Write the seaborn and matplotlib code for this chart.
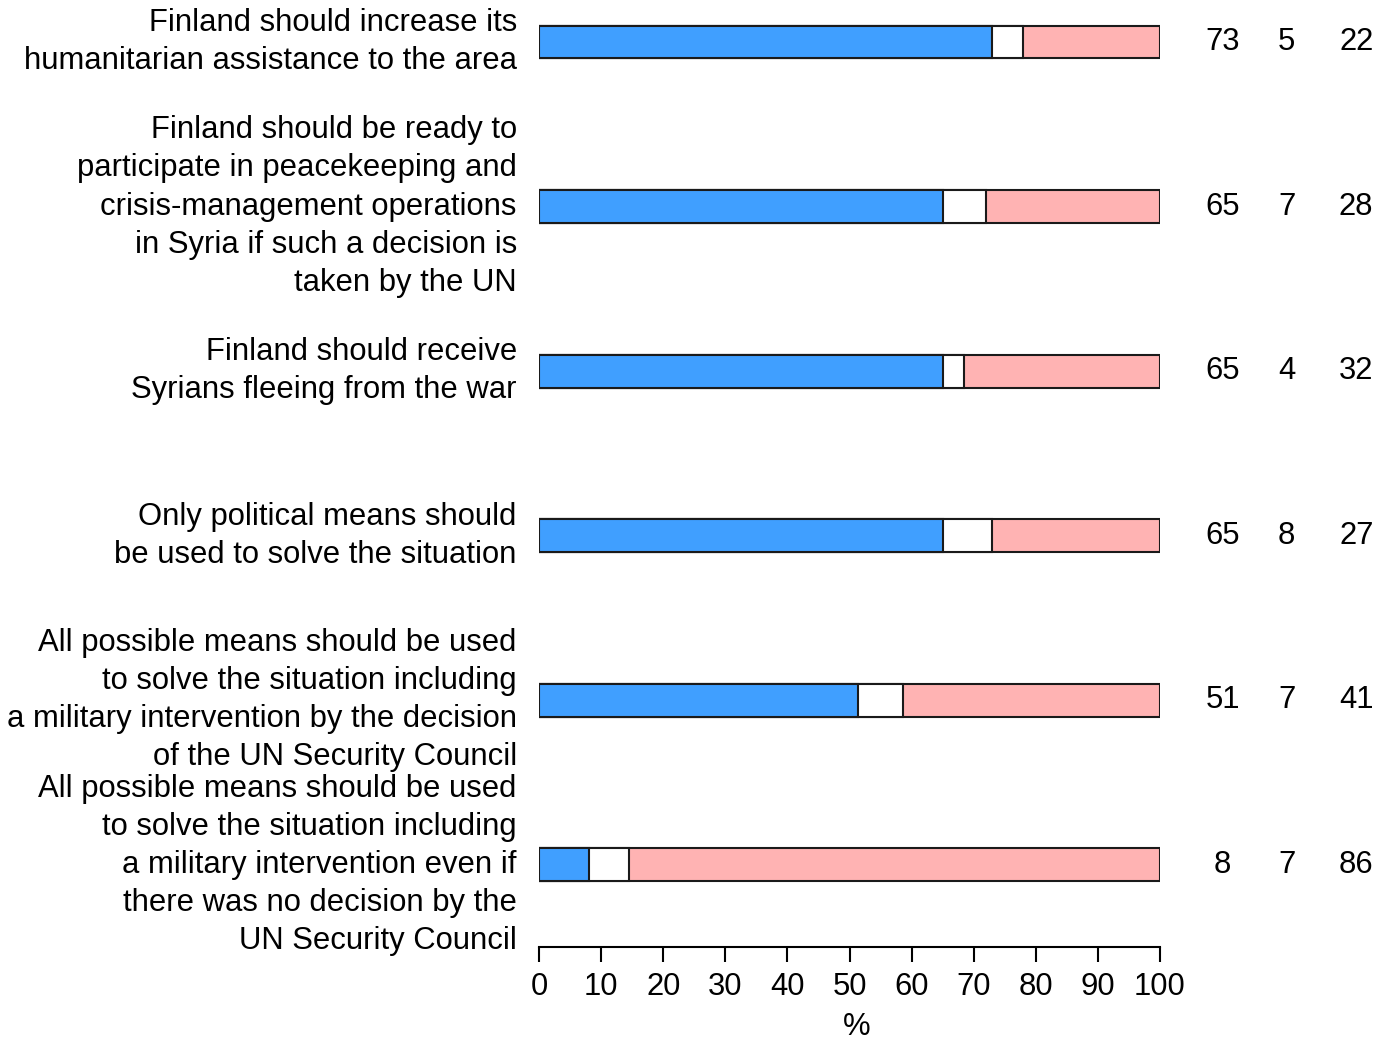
import pandas as pd
import matplotlib
matplotlib.use("Agg")
import matplotlib.pyplot as plt
import seaborn as sns

# Survey statements (top to bottom) and shares in %
statements = [
    "Finland should increase its\nhumanitarian assistance to the area",
    "Finland should be ready to\nparticipate in peacekeeping and\ncrisis-management operations\nin Syria if such a decision is\ntaken by the UN",
    "Finland should receive\nSyrians fleeing from the war",
    "Only political means should\nbe used to solve the situation",
    "All possible means should be used\nto solve the situation including\na military intervention by the decision\nof the UN Security Council",
    "All possible means should be used\nto solve the situation including\na military intervention even if\nthere was no decision by the\nUN Security Council",
]
agree = [73.0, 65.0, 65.0, 65.0, 51.3, 8.0]
dont_know = [5.0, 7.0, 3.5, 8.0, 7.3, 6.5]
disagree = [22.0, 28.0, 31.5, 27.0, 41.4, 85.5]

# numbers printed at the right
agree_lbl = [73, 65, 65, 65, 51, 8]
dk_lbl = [5, 7, 4, 8, 7, 7]
disagree_lbl = [22, 28, 32, 27, 41, 86]

df = pd.DataFrame({"statement": statements, "agree": agree,
                   "dk": dont_know, "disagree": disagree})
df["cum_dk"] = df["agree"] + df["dk"]
df["cum_all"] = df["cum_dk"] + df["disagree"]

sns.set_style("white")
plt.rcParams["font.family"] = ["Liberation Sans", "DejaVu Sans"]
plt.rcParams.update({"text.color": "black", "axes.labelcolor": "black",
                     "xtick.color": "black", "ytick.color": "black"})

fig = plt.figure(figsize=(13.92, 10.4), dpi=100)
ax = fig.add_axes([539 / 1392, 93 / 1040, 621 / 1392, 947 / 1040])

fs = 22.3
edge = "#1a1a1a"
for col, color in [("cum_all", "#FFB3B3"), ("cum_dk", "white"), ("agree", "#409FFF")]:
    sns.barplot(data=df, x=col, y="statement", orient="h", order=statements,
                color=color, width=0.2, edgecolor=edge, linewidth=1.5,
                saturation=1, ax=ax)

# right-hand value columns
for i in range(len(statements)):
    for xpos, vals in [(110.1, agree_lbl), (120.4, dk_lbl), (131.6, disagree_lbl)]:
        ax.text(xpos, i, str(vals[i]), ha="center", va="center",
                fontsize=fs, clip_on=False)

ax.set_xlim(0, 100)
ax.set_ylim(5.5, -0.255)
ax.set_xticks(range(0, 101, 10))
ax.set_xlabel("%", fontsize=fs, labelpad=7.5)
ax.xaxis.label.set_x((857 - 539) / 621)
ax.set_ylabel("")
ax.tick_params(axis="x", labelsize=fs, length=11, width=1.5, pad=7,
               bottom=True, color="black")
ax.tick_params(axis="y", labelsize=fs, length=0, pad=16)
for lbl in ax.get_yticklabels():
    lbl.set_linespacing(1.35)
    lbl.set_verticalalignment("center")

for s in ["top", "right", "left"]:
    ax.spines[s].set_visible(False)
ax.spines["bottom"].set_linewidth(1.5)
ax.spines["bottom"].set_color("black")
ax.spines["bottom"].set_bounds(0, 100)

fig.savefig("out.png", dpi=100)
